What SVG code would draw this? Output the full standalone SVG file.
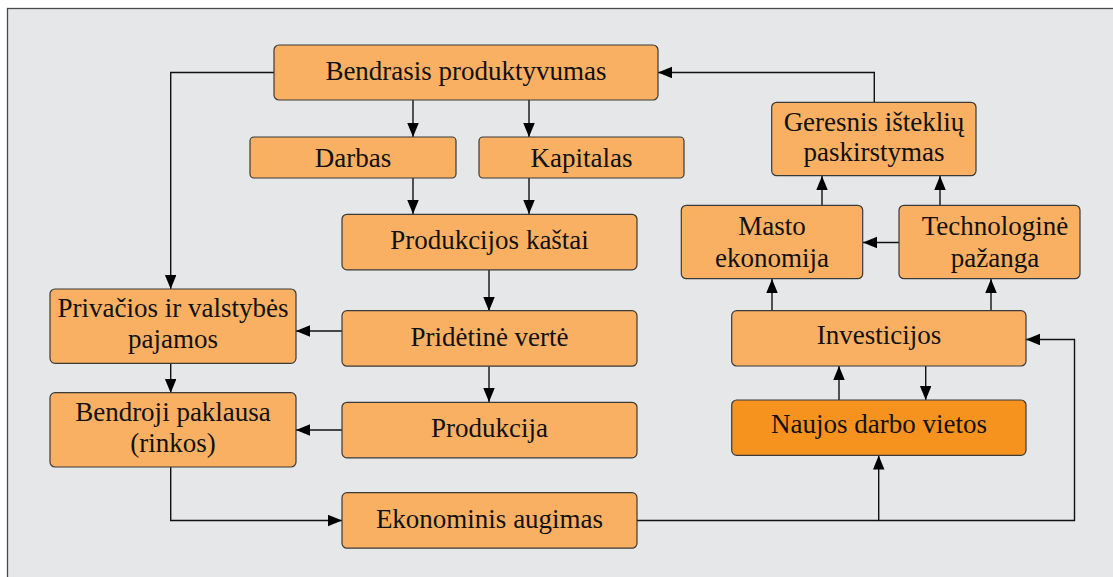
<svg xmlns="http://www.w3.org/2000/svg" width="1113" height="577" viewBox="0 0 1113 577">
  <style>
    .box { fill: #f9b062; stroke: #3a3a3a; stroke-width: 1.2; }
    .box.hot { fill: #f6921e; }
    .lbl { font-size: 27px; fill: #111; text-anchor: middle; }
    .wire { fill: none; stroke: #111; stroke-width: 1.4; }
  </style>
  <defs>
    <marker id="arrow" markerUnits="userSpaceOnUse" markerWidth="15" markerHeight="12" refX="14" refY="5.75" orient="auto">
      <path d="M0,0 L14,5.75 L0,11.5 Z" fill="#000"/>
    </marker>
  </defs>

  <!-- panel -->
  <rect x="0" y="0" width="1113" height="577" fill="#ffffff"/>
  <rect x="7.5" y="8.5" width="1115" height="580" fill="#e6e7e9" stroke="#4a4a4a" stroke-width="1.3"/>

  <!-- connectors -->
  <g id="connectors" class="wire">
    <path d="M274,72.5 H170.7 V289" marker-end="url(#arrow)"/>
    <path d="M413,100 V137" marker-end="url(#arrow)"/>
    <path d="M529,100 V137" marker-end="url(#arrow)"/>
    <path d="M413,178 V214" marker-end="url(#arrow)"/>
    <path d="M529,178 V214" marker-end="url(#arrow)"/>
    <path d="M489,270 V311" marker-end="url(#arrow)"/>
    <path d="M489,366 V402" marker-end="url(#arrow)"/>
    <path d="M342,331 H296" marker-end="url(#arrow)"/>
    <path d="M342,430 H296" marker-end="url(#arrow)"/>
    <path d="M170.7,363 V393" marker-end="url(#arrow)"/>
    <path d="M170.7,467 V520.5 H342" marker-end="url(#arrow)"/>
    <path d="M637,520.5 H1074.5 V339.5 H1026" marker-end="url(#arrow)"/>
    <path d="M878.7,520.5 V455.5" marker-end="url(#arrow)"/>
    <path d="M839,400 V366" marker-end="url(#arrow)"/>
    <path d="M925.7,366 V400" marker-end="url(#arrow)"/>
    <path d="M772,311 V279" marker-end="url(#arrow)"/>
    <path d="M991,311 V279" marker-end="url(#arrow)"/>
    <path d="M899,242.5 H863" marker-end="url(#arrow)"/>
    <path d="M822,205.5 V176" marker-end="url(#arrow)"/>
    <path d="M940,205.5 V176" marker-end="url(#arrow)"/>
    <path d="M874.3,102.5 V72.5 H658" marker-end="url(#arrow)"/>
  </g>

  <!-- nodes -->
  <g id="nodes" font-family="'Liberation Serif', 'DejaVu Serif', serif">
  <g id="bendrasis-produktyvumas">
    <rect class="box" x="274" y="45" width="384" height="55" rx="5"/>
    <text class="lbl" x="466" y="80">Bendrasis produktyvumas</text>
  </g>
  <g id="darbas">
    <rect class="box" x="250" y="137" width="206" height="41" rx="4"/>
    <text class="lbl" x="353" y="166.5">Darbas</text>
  </g>
  <g id="kapitalas">
    <rect class="box" x="479" y="137" width="205" height="41" rx="4"/>
    <text class="lbl" x="581.5" y="166.5">Kapitalas</text>
  </g>
  <g id="produkcijos-kastai">
    <rect class="box" x="342" y="214.3" width="295" height="55.5" rx="5"/>
    <text class="lbl" x="489.5" y="249">Produkcijos kaštai</text>
  </g>
  <g id="pridetine-verte">
    <rect class="box" x="342" y="310.7" width="295" height="55.5" rx="5"/>
    <text class="lbl" x="489.5" y="345.5">Pridėtinė vertė</text>
  </g>
  <g id="produkcija">
    <rect class="box" x="342" y="402.3" width="295" height="55.5" rx="5"/>
    <text class="lbl" x="489.5" y="437">Produkcija</text>
  </g>
  <g id="ekonominis-augimas">
    <rect class="box" x="342" y="492.7" width="295" height="55.5" rx="5"/>
    <text class="lbl" x="489.5" y="527.5">Ekonominis augimas</text>
  </g>
  <g id="privacios-ir-valstybes-pajamos">
    <rect class="box" x="50" y="289" width="246" height="74.3" rx="5"/>
    <text class="lbl" x="173" y="316.7">Privačios ir valstybės</text>
    <text class="lbl" x="173" y="348.3">pajamos</text>
  </g>
  <g id="bendroji-paklausa">
    <rect class="box" x="50" y="392.7" width="246" height="74.3" rx="5"/>
    <text class="lbl" x="173" y="420.7">Bendroji paklausa</text>
    <text class="lbl" x="173" y="451.7">(rinkos)</text>
  </g>
  <g id="geresnis-istekliu-paskirstymas">
    <rect class="box" x="771.7" y="102.3" width="204.3" height="73.4" rx="5"/>
    <text class="lbl" x="874" y="131">Geresnis išteklių</text>
    <text class="lbl" x="874" y="161">paskirstymas</text>
  </g>
  <g id="masto-ekonomija">
    <rect class="box" x="681.3" y="205.3" width="181.4" height="73.4" rx="5"/>
    <text class="lbl" x="772" y="235.3">Masto</text>
    <text class="lbl" x="772" y="267.3">ekonomija</text>
  </g>
  <g id="technologine-pazanga">
    <rect class="box" x="899" y="205.3" width="181" height="73.4" rx="5"/>
    <text class="lbl" x="995" y="235.3">Technologinė</text>
    <text class="lbl" x="995" y="267.3">pažanga</text>
  </g>
  <g id="investicijos">
    <rect class="box" x="731.7" y="310.7" width="294.3" height="55.3" rx="5"/>
    <text class="lbl" x="879" y="344.3">Investicijos</text>
  </g>
  <g id="naujos-darbo-vietos">
    <rect class="box hot" x="731.7" y="400" width="294.3" height="55.3" rx="5"/>
    <text class="lbl" x="879" y="433.3">Naujos darbo vietos</text>
  </g>
  </g>
</svg>
